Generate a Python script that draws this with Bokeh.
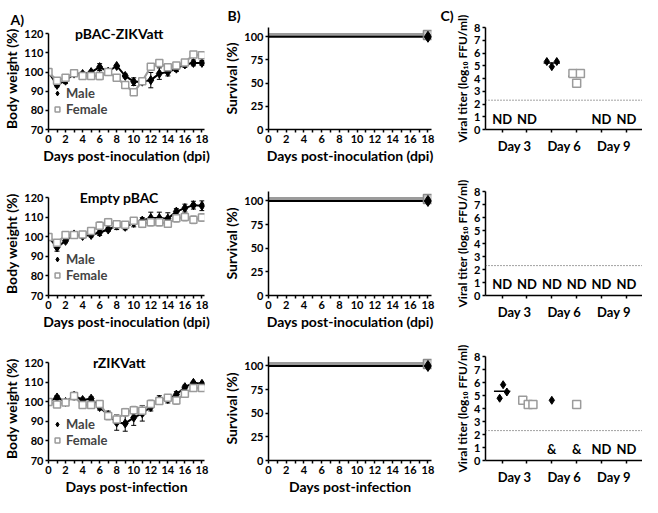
from bokeh.plotting import figure
from bokeh.models import (ColumnDataSource, Whisker, TeeHead, Label, Legend, LegendItem,
                          Span, FixedTicker, Range1d)
from bokeh.layouts import column, row
from bokeh.transform import dodge
from bokeh.core.properties import value
from bokeh.embed import file_html
from bokeh.resources import INLINE

FONT = "Lato"
BLACK = "#000000"
GRAY = "#9b9b9b"

# ---------------- data ----------------
days = list(range(19))

# A) body weight (%)
zik_male = [100, 93.3, 95.5, 99.2, 99, 100, 102.6, 100.3, 103.2, 98, 95, 95, 95.8, 99.2, 100, 101.8, 104, 104.8, 104.8]
zik_male_err = [0.5, 1, 1.5, 0.5, 1, 0.5, 1.8, 0.5, 0.5, 1, 2, 1.5, 4, 3, 2, 1.5, 1.5, 1.5, 1.2]
zik_female = [100, 95.5, 97, 99.4, 98, 98, 98, 100, 97, 93.2, 89.5, 95.2, 102.8, 104.8, 102.5, 103.5, 105, 109.2, 108.8]
zik_female_err = [0.5, 1, 1, 0.5, 1.5, 1, 2, 1, 0.5, 0.5, 1.5, 1.5, 1, 1, 1.5, 1, 1, 1, 1.5]

emp_male = [100, 94.7, 98, 101.3, 100.5, 101, 102.3, 103.8, 105.8, 105.2, 107.2, 108.4, 109.7, 109.7, 109.4, 113, 114.8, 116.3, 116]
emp_male_err = [0.5, 2, 1, 0.5, 1, 1, 1.5, 1, 2, 1.5, 2, 1.5, 3, 3, 3, 1.5, 2, 2, 2.5]
emp_female = [100, 97, 101, 101, 101.2, 103, 105.8, 107.5, 106.5, 106.2, 108.3, 106.8, 107.6, 107.6, 106.8, 109.6, 110.2, 108.8, 110]
emp_female_err = [0.5, 1, 1, 1, 1, 1, 2, 2, 1.5, 1.5, 1.5, 2, 2, 2, 1.5, 2, 2, 2, 2]

rzik_male = [100, 102.3, 100, 103.2, 101, 101.7, 97.4, 93.3, 89.5, 89, 92, 94.2, 97.4, 101.2, 101.5, 103.8, 107.6, 109.8, 109.3]
rzik_male_err = [1, 1, 0.5, 1, 1, 1, 1.5, 2, 4, 4, 4, 4, 2, 2, 2, 1.5, 1, 0.5, 0.5]
rzik_female = [100, 98.7, 99.7, 103, 98.5, 98.5, 99, 92.8, 91, 94.7, 95.8, 95.5, 99, 100.5, 102.2, 100.8, 104.2, 107.1, 107.1]
rzik_female_err = [1, 1.5, 0.5, 2, 1, 1, 1.5, 2, 2.5, 2, 2, 2.5, 2, 1.5, 1.5, 2, 1.5, 1, 1]

# B) survival (%)
surv_days = [0, 18]
surv_male = [100, 100]
surv_female = [100, 100]

# C) viral titer (log10 FFU/ml)
titer_days = ["Day 3", "Day 6", "Day 9"]
detection_limit = 2.3

c1_male_day = ["Day 6", "Day 6", "Day 6"]
c1_male_val = [5.33, 5.33, 4.93]
c1_male_dx = [-0.2, 0.2, 0.0]
c1_female_day = ["Day 6", "Day 6", "Day 6"]
c1_female_val = [4.4, 4.4, 3.62]
c1_female_dx = [-0.15, 0.15, 0.0]
c1_mean_m_day, c1_mean_m = ["Day 6"], [5.21]
c1_mean_f_day, c1_mean_f = ["Day 6"], [4.17]
c1_note_day = ["Day 3", "Day 3", "Day 9", "Day 9"]
c1_note_sex = ["M", "F", "M", "F"]
c1_note_txt = ["ND", "ND", "ND", "ND"]

c2_male_day, c2_male_val, c2_male_dx = [], [], []
c2_female_day, c2_female_val, c2_female_dx = [], [], []
c2_mean_m_day, c2_mean_m = [], []
c2_mean_f_day, c2_mean_f = [], []
c2_note_day = ["Day 3", "Day 3", "Day 6", "Day 6", "Day 9", "Day 9"]
c2_note_sex = ["M", "F", "M", "F", "M", "F"]
c2_note_txt = ["ND", "ND", "ND", "ND", "ND", "ND"]

c3_male_day = ["Day 3", "Day 3", "Day 3", "Day 6"]
c3_male_val = [5.83, 5.27, 4.79, 4.63]
c3_male_dx = [0.04, 0.19, -0.1, 0.0]
c3_female_day = ["Day 3", "Day 3", "Day 3", "Day 6"]
c3_female_val = [4.63, 4.31, 4.31, 4.31]
c3_female_dx = [-0.17, 0.05, 0.24, 0.0]
c3_mean_m_day, c3_mean_m = ["Day 3"], [5.32]
c3_mean_f_day, c3_mean_f = ["Day 3"], [4.45]
c3_note_day = ["Day 6", "Day 6", "Day 9", "Day 9"]
c3_note_sex = ["M", "F", "M", "F"]
c3_note_txt = ["&", "&", "ND", "ND"]

# ---------------- layout ----------------
COL_W = [220, 218, 204]
BORDER_L = [38, 43, 47]
BORDER_R = [16, 7, 0]
ROW_H = [166, 166, 165]
BORDER_T = [24, 25, 24]
BORDER_B = [34, 34, 34]
A_EXTRA = 7          # px of headroom above 120 in the weight panels (for the inner title)
W_TOP = 70 + 50 * (106 + A_EXTRA) / 106.0


def style_axis(ax, label, label_size="14px"):
    ax.axis_label = label
    ax.axis_label_text_font = FONT
    ax.axis_label_text_font_style = "bold"
    ax.axis_label_text_font_size = label_size
    ax.axis_label_text_color = BLACK
    ax.axis_label_text_line_height = 1.0
    ax.axis_label_standoff = 1
    ax.major_label_text_font = FONT
    ax.major_label_text_font_style = "bold"
    ax.major_label_text_font_size = "11px"
    ax.major_label_text_color = BLACK
    ax.major_label_text_line_height = 1.0
    ax.major_label_standoff = 2
    ax.axis_line_width = 1.5
    ax.axis_line_color = BLACK
    ax.major_tick_line_width = 1.5
    ax.minor_tick_line_width = 1.5
    ax.major_tick_line_color = BLACK
    ax.minor_tick_line_color = BLACK
    ax.major_tick_in = 0
    ax.major_tick_out = 3
    ax.minor_tick_in = 0
    ax.minor_tick_out = 3


def base_fig(col, r, xr, yr, top=None):
    p = figure(width=COL_W[col], height=ROW_H[r], x_range=xr, y_range=yr,
               output_backend="svg", toolbar_location=None,
               min_border_left=BORDER_L[col], min_border_right=BORDER_R[col],
               min_border_top=BORDER_T[r] if top is None else top,
               min_border_bottom=BORDER_B[r])
    p.grid.visible = False
    p.outline_line_color = None
    p.background_fill_color = "white"
    p.border_fill_color = "white"
    return p


def panel_label(p, text, dx, standoff):
    p.title.text = text
    p.title.align = "left"
    p.title.offset = dx
    p.title.text_font = FONT
    p.title.text_font_style = "bold"
    p.title.text_font_size = "14px"
    p.title.text_color = BLACK
    p.title.text_line_height = 1.0
    p.title.standoff = standoff


def make_weight(r, title, male, male_err, female, female_err, xlabel, plabel=None):
    p = base_fig(0, r, Range1d(0, 18.3), Range1d(70, W_TOP), top=BORDER_T[r] - A_EXTRA)
    style_axis(p.xaxis[0], xlabel)
    style_axis(p.yaxis[0], "Body weight (%)")
    p.yaxis[0].bounds = (70, 120)
    p.xaxis[0].ticker = FixedTicker(ticks=list(range(0, 19, 2)), minor_ticks=list(range(1, 19, 2)))
    p.yaxis[0].ticker = FixedTicker(ticks=list(range(70, 121, 10)))

    sm = ColumnDataSource(dict(x=days, y=male,
                               lo=[v - e for v, e in zip(male, male_err)],
                               hi=[v + e for v, e in zip(male, male_err)]))
    sf = ColumnDataSource(dict(x=days, y=female,
                               lo=[v - e for v, e in zip(female, female_err)],
                               hi=[v + e for v, e in zip(female, female_err)]))
    p.line("x", "y", source=sm, line_color=BLACK, line_width=2)
    p.add_layout(Whisker(source=sm, base="x", upper="hi", lower="lo", line_color=BLACK, line_width=1,
                         upper_head=TeeHead(size=5, line_color=BLACK, line_width=1),
                         lower_head=TeeHead(size=5, line_color=BLACK, line_width=1)))
    rm = p.scatter("x", "y", source=sm, marker="diamond", size=9, fill_color=BLACK, line_color=BLACK)
    p.line("x", "y", source=sf, line_color=GRAY, line_width=2.2)
    p.add_layout(Whisker(source=sf, base="x", upper="hi", lower="lo", line_color=GRAY, line_width=1,
                         upper_head=TeeHead(size=5, line_color=GRAY, line_width=1),
                         lower_head=TeeHead(size=5, line_color=GRAY, line_width=1)))
    rf = p.scatter("x", "y", source=sf, marker="square", size=7, fill_color="white",
                   line_color=GRAY, line_width=1.5)

    p.add_layout(Label(x=8.3, y=120, text=title,
                       text_font=FONT, text_font_style="bold", text_font_size="14px",
                       text_align="center", text_baseline="middle", text_color=BLACK))
    leg = Legend(items=[LegendItem(label="Male", renderers=[rm]),
                        LegendItem(label="Female", renderers=[rf])],
                 location=(3, 12), border_line_color=None, background_fill_alpha=0,
                 padding=0, spacing=0, margin=0, glyph_width=12, glyph_height=14,
                 label_height=14, label_standoff=3,
                 label_text_font=FONT, label_text_font_style="bold", label_text_font_size="13px")
    p.add_layout(leg)
    if plabel:
        panel_label(p, plabel, -38, 0)
    return p


def make_survival(r, xlabel, plabel=None):
    p = base_fig(1, r, Range1d(0, 18.4), Range1d(0, 110))
    style_axis(p.xaxis[0], xlabel)
    style_axis(p.yaxis[0], "Survival (%)")
    p.xaxis[0].ticker = FixedTicker(ticks=list(range(0, 19, 2)), minor_ticks=list(range(1, 19, 2)))
    p.yaxis[0].ticker = FixedTicker(ticks=[0, 25, 50, 75, 100])
    sf = ColumnDataSource(dict(x=surv_days, y=surv_female))
    sm = ColumnDataSource(dict(x=surv_days, y=surv_male))
    yf = dodge("y", 2, range=p.y_range)
    p.line("x", yf, source=sf, line_color=GRAY, line_width=4)
    p.line("x", "y", source=sm, line_color=BLACK, line_width=2)
    end_f = ColumnDataSource(dict(x=surv_days[-1:], y=surv_female[-1:]))
    end_m = ColumnDataSource(dict(x=surv_days[-1:], y=surv_male[-1:]))
    p.scatter("x", yf, source=end_f, marker="square", size=9, fill_color="#c8c8c8",
              line_color="#8a8a8a", line_width=1.5)
    p.scatter("x", "y", source=end_m, marker="diamond", size=11, fill_color=BLACK, line_color=BLACK)
    if plabel:
        panel_label(p, plabel, -41, 8)
    return p


def pos(day, sex):
    return 2 * titer_days.index(day) + (1 if sex == "M" else 2)


def make_titer(r, mday, mval, mdx, fday, fval, fdx, mmd, mm, fmd, fm, nday, nsex, ntxt, plabel=None):
    p = base_fig(2, r, Range1d(0.33, 6.65), Range1d(0, 8))
    style_axis(p.xaxis[0], None)
    style_axis(p.yaxis[0], "Viral titer (log\u2081\u2080 FFU/ml)", label_size="12px")
    centers = [2 * i + 1.5 for i in range(len(titer_days))]
    p.xaxis[0].ticker = FixedTicker(ticks=centers, minor_ticks=[1, 2, 3, 4, 5, 6])
    p.xaxis[0].major_label_overrides = {c: d for c, d in zip(centers, titer_days)}
    p.xaxis[0].major_tick_out = 0
    p.xaxis[0].major_label_standoff = 5
    p.xaxis[0].major_label_text_font_size = "13px"
    p.yaxis[0].ticker = FixedTicker(ticks=list(range(0, 9)))

    p.add_layout(Span(location=detection_limit, dimension="width", line_color="#444444",
                      line_width=1, line_dash="1 2"))

    smean_m = ColumnDataSource(dict(x=[pos(d, "M") for d in mmd], y=mm))
    smean_f = ColumnDataSource(dict(x=[pos(d, "F") for d in fmd], y=fm))
    for s in (smean_m, smean_f):
        p.segment(x0=dodge("x", -0.33), x1=dodge("x", 0.33), y0="y", y1="y", source=s,
                  line_color=BLACK, line_width=1.5)

    sm = ColumnDataSource(dict(x=[pos(d, "M") + o for d, o in zip(mday, mdx)], y=mval))
    sf = ColumnDataSource(dict(x=[pos(d, "F") + o for d, o in zip(fday, fdx)], y=fval))
    p.scatter("x", "y", source=sm, marker="diamond", size=8, fill_color=BLACK, line_color=BLACK)
    p.scatter("x", "y", source=sf, marker="square", size=8, fill_color="white",
              line_color=GRAY, line_width=1.5)

    sn = ColumnDataSource(dict(x=[pos(d, s) for d, s in zip(nday, nsex)], y=[0.85] * len(ntxt), t=ntxt))
    p.text(x="x", y="y", text="t", source=sn, text_font=value(FONT), text_font_style="bold",
           text_font_size="13px", text_align="center", text_baseline="middle", text_color=BLACK)
    if plabel:
        panel_label(p, plabel, -45, 8)
    return p


a1 = make_weight(0, "pBAC-ZIKVatt", zik_male, zik_male_err, zik_female, zik_female_err,
                 "Days post-inoculation (dpi)", "A)")
a2 = make_weight(1, "Empty pBAC", emp_male, emp_male_err, emp_female, emp_female_err,
                 "Days post-inoculation (dpi)")
a3 = make_weight(2, "rZIKVatt", rzik_male, rzik_male_err, rzik_female, rzik_female_err,
                 "Days post-infection")

b1 = make_survival(0, "Days post-inoculation (dpi)", "B)")
b2 = make_survival(1, "Days post-inoculation (dpi)")
b3 = make_survival(2, "Days post-infection")

c1 = make_titer(0, c1_male_day, c1_male_val, c1_male_dx, c1_female_day, c1_female_val, c1_female_dx,
                c1_mean_m_day, c1_mean_m, c1_mean_f_day, c1_mean_f,
                c1_note_day, c1_note_sex, c1_note_txt, "C)")
c2 = make_titer(1, c2_male_day, c2_male_val, c2_male_dx, c2_female_day, c2_female_val, c2_female_dx,
                c2_mean_m_day, c2_mean_m, c2_mean_f_day, c2_mean_f,
                c2_note_day, c2_note_sex, c2_note_txt)
c3 = make_titer(2, c3_male_day, c3_male_val, c3_male_dx, c3_female_day, c3_female_val, c3_female_dx,
                c3_mean_m_day, c3_mean_m, c3_mean_f_day, c3_mean_f,
                c3_note_day, c3_note_sex, c3_note_txt)

layout = column(row(a1, b1, c1, spacing=0), row(a2, b2, c2, spacing=0),
                row(a3, b3, c3, spacing=0), spacing=0)

open("out.html", "w").write(file_html(layout, INLINE))
